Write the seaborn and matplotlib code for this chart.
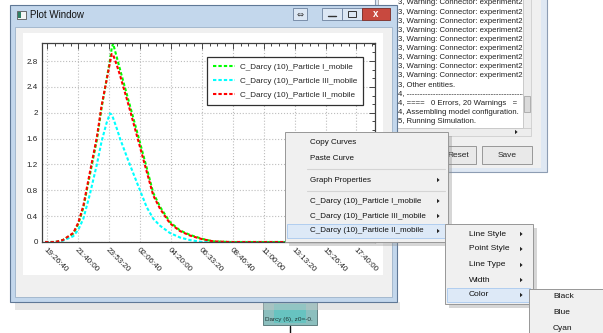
import matplotlib
matplotlib.use("Agg")
import matplotlib.pyplot as plt
import seaborn as sns
import pandas as pd
from matplotlib.patches import Rectangle, Polygon
from matplotlib.lines import Line2D
from matplotlib.ticker import MultipleLocator

# ---------------- data ----------------
time_s = [68000, 70000, 72000, 74000, 76700, 78000, 79300, 81000, 82800, 84000,
          85300, 86200, 86650, 87000, 88000, 88800, 91000, 93100, 95700, 97400,
          99200, 101700, 104300, 106900, 110000, 112900, 117300, 125000, 140000, 156000]
particle_I = [0, 0, 0.0, 0.03, 0.13, 0.28, 0.53, 1.04, 1.58, 2.07,
              2.51, 2.82, 3.00, 3.07, 2.85, 2.67, 2.19, 1.73, 1.15, 0.76,
              0.54, 0.31, 0.18, 0.11, 0.05, 0.01, 0, 0, 0, 0]
particle_III = [0, 0, 0.0, 0.02, 0.09, 0.19, 0.36, 0.74, 1.20, 1.55,
                1.84, 1.99, 1.97, 1.92, 1.75, 1.60, 1.25, 0.93, 0.54, 0.36,
                0.25, 0.14, 0.07, 0.03, 0.0, 0, 0, 0, 0, 0]
particle_II = [0, 0, 0.0, 0.03, 0.14, 0.30, 0.56, 1.08, 1.62, 2.10,
               2.50, 2.78, 2.91, 2.90, 2.73, 2.58, 2.12, 1.66, 1.09, 0.72,
               0.51, 0.29, 0.17, 0.10, 0.045, 0.01, 0, 0, 0, 0]
series_names = ["C_Darcy (10)_Particle I_mobile",
                "C_Darcy (10)_Particle III_mobile",
                "C_Darcy (10)_Particle II_mobile"]
series_colors = ["#00ff00", "#00ffff", "#ff0000"]

x_tick_values = [70000, 78000, 86000, 94000, 102000, 110000, 118000,
                 126000, 134000, 142000, 150000]
x_tick_labels = ["19:26:40", "21:40:00", "23:53:20", "02:06:40", "04:20:00",
                 "06:33:20", "08:46:40", "11:00:00", "13:13:20", "15:26:40", "17:40:00"]
y_tick_values = [0, 0.4, 0.8, 1.2, 1.6, 2.0, 2.4, 2.8]
y_tick_labels = ["0", "0.4", "0.8", "1.2", "1.6", "2", "2.4", "2.8"]

window_title = "Plot Window"
menu_items = ["Copy Curves", "Paste Curve", "Graph Properties",
              "C_Darcy (10)_Particle I_mobile", "C_Darcy (10)_Particle III_mobile",
              "C_Darcy (10)_Particle II_mobile"]
submenu_items = ["Line Style", "Point Style", "Line Type", "Width", "Color"]
color_items = ["Black", "Blue", "Cyan"]
log_lines = ["3, Warning: Connector: experiment2"] * 9 + [
    "3, Other entities.",
    "4, ---------------------------------------------------",
    "4, ====   0 Errors, 20 Warnings   =",
    "4, Assembling model configuration.",
    "5, Running Simulation."]
thumb_text = "Darcy (6), z0=-0."

df = pd.DataFrame({
    "t": time_s * 3,
    "value": particle_I + particle_III + particle_II,
    "series": [series_names[0]] * len(time_s) + [series_names[1]] * len(time_s)
              + [series_names[2]] * len(time_s),
})

# ---------------- figure & helpers (pixel coordinates) ----------------
W, H = 603, 333
sns.set_style("white")
plt.rcParams["font.family"] = ["Liberation Sans", "DejaVu Sans"]
fig = plt.figure(figsize=(W / 100, H / 100), dpi=100)
fig.patch.set_facecolor("white")


def R(x0, y0, x1, y1, fc, ec="none", lw=0.8, z=-5, **kw):
    p = Rectangle((x0 / W, 1 - y1 / H), (x1 - x0) / W, (y1 - y0) / H,
                  transform=fig.transFigure, facecolor=fc, edgecolor=ec,
                  linewidth=lw, zorder=z, **kw)
    fig.add_artist(p)
    return p


def T(x, y, s, z=-4, size=6, **kw):
    kw.setdefault("va", "center")
    return fig.text(x / W, 1 - y / H, s, zorder=z, fontsize=size, **kw)


def L(xs, ys, color, z, lw=0.8):
    fig.add_artist(Line2D([x / W for x in xs], [1 - y / H for y in ys],
                          transform=fig.transFigure, color=color, lw=lw, zorder=z))


def tri(x, y, z):
    fig.add_artist(Polygon([((x) / W, 1 - (y - 2.2) / H), ((x) / W, 1 - (y + 2.2) / H),
                            ((x + 2.6) / W, 1 - y / H)], closed=True,
                           transform=fig.transFigure, facecolor="#222222",
                           edgecolor="none", zorder=z))


# ---------------- background log window ----------------
R(375, -5, 547, 172, fc="#dfe8f3", ec="#8d9db3", z=-12)
R(378, -5, 541, 168, fc="#f0f0f0", z=-11.9)
log_area = R(378, -5, 523, 128, fc="white", ec="#a8a8a8", lw=0.6, z=-11.8)
R(523, -5, 531, 128, fc="#ededed", ec="#c8c8c8", lw=0.5, z=-11.8)
R(524, 96, 530, 112, fc="#dadada", ec="#9a9a9a", lw=0.5, z=-11.7)
R(378, 128, 531, 136, fc="#ededed", ec="#c8c8c8", lw=0.5, z=-11.8)
tri(515, 132, -11.6)
for i, line in enumerate(log_lines):
    t = T(398, 3 + 9.1 * i, line, z=-11.5, size=5.6, color="#222222")
    t.set_clip_path(log_area)
R(440, 146, 476, 164, fc="#e9e9e9", ec="#8a8a8a", lw=0.6, z=-11.5)
T(458, 155, "Reset", z=-11.4, size=6, ha="center")
R(482, 146, 532, 164, fc="#e9e9e9", ec="#8a8a8a", lw=0.6, z=-11.5)
T(507, 155, "Save", z=-11.4, size=6, ha="center")

# ---------------- plot window ----------------
R(15, 302, 400, 310, fc="#c8c8c8", alpha=0.45, z=-9)
R(10, 5, 397, 302, fc="#c3d7ec", ec="#5f7896", lw=0.8, z=-8)
R(15, 27, 392, 297, fc="#f0f0f0", ec="#9db2ca", lw=0.6, z=-7.9)
R(23, 33, 383, 275, fc="white", z=-7.8)
R(17, 11, 26, 19, fc="#f4f4f4", ec="#555555", lw=0.6, z=-7.5)
R(18, 12, 21, 18, fc="#2f7f64", z=-7.4)
T(30, 15, window_title, z=-7.5, size=7, color="#111111")
R(293, 8, 307, 20, fc="#dce7f4", ec="#6c819e", lw=0.6, z=-7.5)
T(300, 14, "\u21d4", z=-7.4, size=6, ha="center", family="DejaVu Sans", color="#333333")
R(322, 8, 342, 20, fc="#dce7f4", ec="#6c819e", lw=0.6, z=-7.5)
L([328, 336], [16, 16], "#333333", -7.4, lw=1.0)
R(342, 8, 362, 20, fc="#dce7f4", ec="#6c819e", lw=0.6, z=-7.5)
R(348, 11, 356, 17, fc="none", ec="#333333", lw=0.7, z=-7.4)
R(362, 8, 390, 20, fc="#c8493f", ec="#7a2c26", lw=0.6, z=-7.5)
T(376, 14, "x", z=-7.4, size=7, ha="center", color="white", weight="bold")

# ---------------- the chart ----------------
ax = fig.add_axes([42 / W, 1 - 242 / H, 333 / W, 199 / H])
sns.lineplot(data=df, x="t", y="value", hue="series", hue_order=series_names,
             palette=series_colors, style="series", style_order=series_names,
             dashes=[(1.6, 1.0)] * 3, lw=1.5, estimator=None, sort=False, ax=ax)
ax.set_xlim(68600, 154800)
ax.set_ylim(0, 3.08)
ax.set_xticks(x_tick_values)
ax.set_xticklabels(x_tick_labels, rotation=-45, ha="left", va="top",
                   rotation_mode="anchor", fontsize=5.8, color="#222222")
ax.set_yticks(y_tick_values)
ax.set_yticklabels(y_tick_labels, fontsize=5.8, color="#222222")
ax.xaxis.set_minor_locator(MultipleLocator(2000))
ax.yaxis.set_minor_locator(MultipleLocator(0.4 / 3))
ax.tick_params(which="both", direction="in", top=True, right=True,
               color="#444444", width=0.7)
ax.tick_params(which="major", length=4, pad=3)
ax.tick_params(which="minor", length=2)
ax.set_xlabel("")
ax.set_ylabel("")
ax.grid(True, which="major", linestyle=":", color="#bdbdbd", lw=0.8)
ax.set_axisbelow(True)
for sp in ax.spines.values():
    sp.set_color("#404040")
    sp.set_linewidth(0.9)
handles, labels = ax.get_legend_handles_labels()
leg = ax.legend(handles, labels, loc="upper right", bbox_to_anchor=(0.976, 0.95),
                frameon=True, fancybox=False, edgecolor="#303030", framealpha=1,
                fontsize=5.9, handlelength=2.7, labelspacing=0.8, borderpad=0.7,
                handletextpad=0.6)
leg.get_frame().set_linewidth(0.9)

# ---------------- context menu ----------------
ZM = 10
R(289, 136, 452, 246, fc="#8a8a8a", alpha=0.35, z=ZM - 0.5)
R(285, 132, 448, 242, fc="#f0f0f0", ec="#979797", lw=0.7, z=ZM)
R(287, 224, 446, 238, fc="#dde9f7", ec="#a9c9ef", lw=0.6, z=ZM + 0.1)
L([307, 445], [169, 169], "#d4d4d4", ZM + 0.2)
L([307, 445], [191, 191], "#d4d4d4", ZM + 0.2)
menu_y = [143, 158, 180, 201, 216, 231]
for s, yy in zip(menu_items, menu_y):
    T(310, yy, s, z=ZM + 1, size=5.8, color="#111111")
for yy in menu_y[2:]:
    tri(437, yy, ZM + 1)

# submenu
R(449, 228, 537, 308, fc="#8a8a8a", alpha=0.35, z=ZM + 1.5)
R(445, 224, 533, 304, fc="#f0f0f0", ec="#979797", lw=0.7, z=ZM + 2)
R(447, 288, 530, 302, fc="#dde9f7", ec="#a9c9ef", lw=0.6, z=ZM + 2.1)
sub_y = [234, 249, 265, 280, 295]
for s, yy in zip(submenu_items, sub_y):
    T(469, yy, s, z=ZM + 3, size=6.0, color="#111111")
    tri(520, yy, ZM + 3)

# color submenu
R(533, 293, 610, 345, fc="#8a8a8a", alpha=0.35, z=ZM + 3.5)
R(529, 289, 606, 341, fc="#f0f0f0", ec="#979797", lw=0.7, z=ZM + 4)
col_y = [297, 312, 328]
for s, yy in zip(color_items, col_y):
    T(553, yy, s, z=ZM + 5, size=6.0, color="#111111")

# taskbar thumbnail
thumb = R(263, 302, 317, 325, fc="#8cbfbe", ec="#5f7f80", lw=0.7, z=-9.5)
R(274, 304, 306, 323, fc="#4fc6c3", alpha=0.6, z=-9.4)
tt = T(265, 320, thumb_text, z=-9.3, size=4.6, color="#1f3535")
tt.set_clip_path(thumb)
L([290, 290], [326, 333], "#111111", -9.3, lw=1.0)

fig.savefig("out.png", dpi=100)
